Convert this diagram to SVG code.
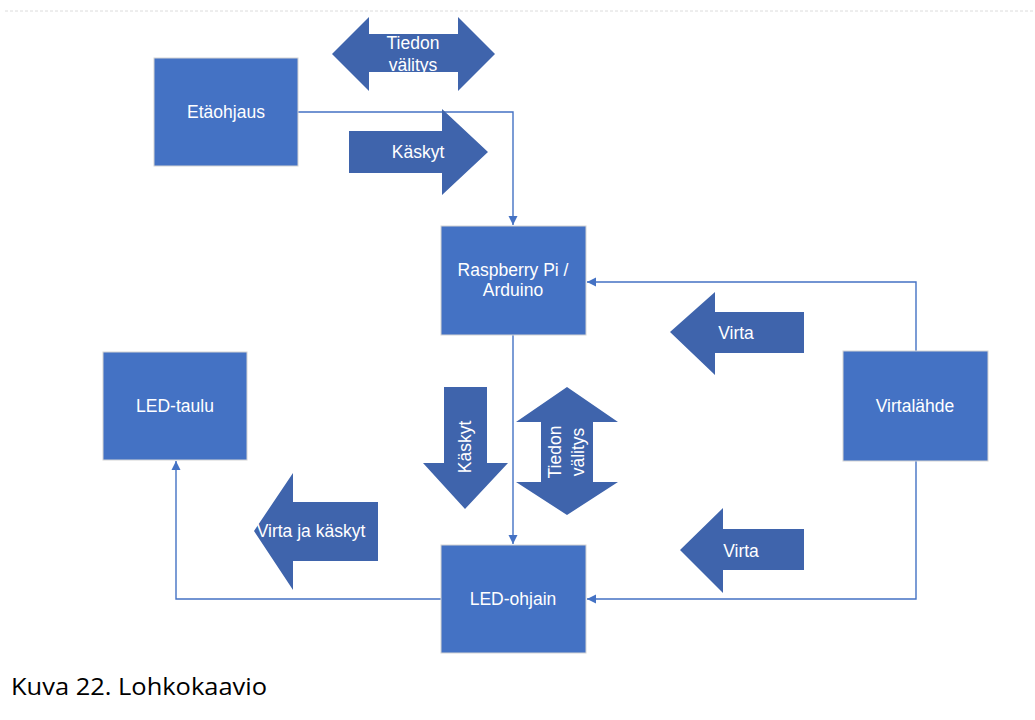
<svg xmlns="http://www.w3.org/2000/svg" width="1035" height="720" viewBox="0 0 1035 720">
<defs>
<style>
.box{fill:#4472C4;stroke:#d4d4d4;stroke-width:1}
.arr{fill:#3F64AC}
.t{font-family:"Liberation Sans",Arial,sans-serif;font-size:17.5px;fill:#ffffff;text-anchor:middle;dominant-baseline:central}
.c{fill:none;stroke:#4472C4;stroke-width:1.4}
</style>
<marker id="ah" markerWidth="10" markerHeight="10" refX="9" refY="5" orient="auto" markerUnits="userSpaceOnUse">
<path d="M0,0.5 L9,5 L0,9.5 z" fill="#4472C4"/>
</marker>
</defs>
<rect width="1035" height="720" fill="#ffffff"/>
<line x1="5" y1="11" x2="1035" y2="11" stroke="#dcdcdc" stroke-width="1" stroke-dasharray="3,2"/>

<g id="connectors">
<path class="c" d="M298,112 H513 V225" marker-end="url(#ah)"/>
<path class="c" d="M916,351 V282 H587" marker-end="url(#ah)"/>
<path class="c" d="M513,335 V544" marker-end="url(#ah)"/>
<path class="c" d="M916,461 V599 H587" marker-end="url(#ah)"/>
<path class="c" d="M441,599 H176 V461" marker-end="url(#ah)"/>
</g>

<g id="arrow-tiedon-valitys-top">
<polygon class="arr" points="332,54 369,17 369,34 458,34 458,17 495,54 458,91 458,72 369,72 369,91"/>
<text class="t" x="413" y="43">Tiedon</text>
<text class="t" x="413" y="65">välitys</text>
</g>
<g id="arrow-kaskyt-top">
<polygon class="arr" points="349,131 442,131 442,109 488,152 442,195 442,173 349,173"/>
<text class="t" x="418" y="152">Käskyt</text>
</g>
<g id="arrow-virta-top">
<polygon class="arr" points="670,332 715,292 715,312 804,312 804,353 715,353 715,375"/>
<text class="t" x="736" y="333">Virta</text>
</g>
<g id="arrow-virta-bottom">
<polygon class="arr" points="680,550 723,508 723,529 804,529 804,570 723,570 723,593"/>
<text class="t" x="741" y="551">Virta</text>
</g>
<g id="arrow-virta-ja-kaskyt">
<polygon class="arr" points="254,531 293,473 293,502 378,502 378,561 293,561 293,590"/>
<text class="t" x="311" y="531">Virta ja käskyt</text>
</g>
<g id="arrow-kaskyt-vertical">
<polygon class="arr" points="444,387 487,387 487,463 508,463 465,509 423,463 444,463"/>
<text class="t" transform="translate(465,447) rotate(-90)" x="0" y="0">Käskyt</text>
</g>
<g id="arrow-tiedon-valitys-vertical">
<polygon class="arr" points="567,387 618,422 593,422 593,482 618,482 567,515 516,482 541,482 541,422 516,422"/>
<text class="t" transform="translate(555,452) rotate(-90)" x="0" y="0">Tiedon</text>
<text class="t" transform="translate(578,452) rotate(-90)" x="0" y="0">välitys</text>
</g>

<g id="node-etaohjaus">
<rect class="box" x="154" y="58" width="144" height="108"/>
<text class="t" x="226" y="112">Etäohjaus</text>
</g>
<g id="node-raspberry">
<rect class="box" x="441" y="226" width="145" height="109"/>
<text class="t" x="513" y="270">Raspberry Pi /</text>
<text class="t" x="513" y="290">Arduino</text>
</g>
<g id="node-virtalahde">
<rect class="box" x="843" y="351" width="145" height="110"/>
<text class="t" x="915" y="406">Virtalähde</text>
</g>
<g id="node-led-taulu">
<rect class="box" x="103" y="352" width="144" height="108"/>
<text class="t" x="175" y="406">LED-taulu</text>
</g>
<g id="node-led-ohjain">
<rect class="box" x="441" y="545" width="145" height="108"/>
<text class="t" x="513" y="599">LED-ohjain</text>
</g>

<text x="11" y="695" font-family="'Open Sans','Liberation Sans',sans-serif" font-size="24" fill="#000000" textLength="256" lengthAdjust="spacingAndGlyphs">Kuva 22. Lohkokaavio</text>
</svg>
